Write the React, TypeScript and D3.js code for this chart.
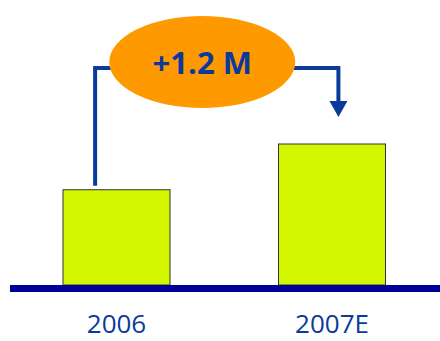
import React from 'react';
import * as d3 from 'd3';

const years = ['2006', '2007E'];
const values = [2.5, 3.7];
const deltaLabel = '+1.2 M';

const W = 440;
const H = 341;

export default function App() {
  const x = d3.scaleBand<string>()
    .domain(years)
    .range([10, 438.5])
    .paddingInner(0.5035)
    .paddingOuter(0.246);
  const y = d3.scaleLinear()
    .domain([0, d3.max(values) as number])
    .range([285, 144]);

  const bw = x.bandwidth();
  const x0 = (x(years[0]) as number);
  const x1 = (x(years[1]) as number);

  // connector geometry, from the bars
  const lineY = 68;
  const leftX = x0 + bw * 0.3;
  const rightX = x1 + bw * 0.56;
  const arrowTip = y(values[1]) - 27;

  const ell = { cx: (x0 + bw / 2 + x1 + bw / 2) / 2 - 22, cy: 62, rx: 93, ry: 46 };
  const blue = '#0a3a9c';

  const line = d3.line();

  return (
    <svg width={W} height={H} style={{ position: 'absolute', left: 0, top: 0 }}>
      <path
        d={line([[leftX, y(values[0]) - 4], [leftX, lineY], [ell.cx, lineY]]) as string}
        fill="none" stroke={blue} strokeWidth={4}
      />
      <path
        d={line([[ell.cx, lineY], [rightX, lineY], [rightX, arrowTip - 14]]) as string}
        fill="none" stroke={blue} strokeWidth={4}
      />
      <path
        d={`M${rightX - 9},${arrowTip - 16}L${rightX + 9},${arrowTip - 16}L${rightX},${arrowTip}Z`}
        fill={blue}
      />
      <ellipse cx={ell.cx} cy={ell.cy} rx={ell.rx} ry={ell.ry} fill="#ff9900" />
      <text x={ell.cx} y={74} textAnchor="middle" fontFamily="'Open Sans', sans-serif"
        fontWeight={700} fontSize={31} fill={blue}>{deltaLabel}</text>

      {years.map((yr, i) => (
        <rect key={yr} x={x(yr)} y={y(values[i])} width={bw} height={285 - y(values[i])}
          fill="#d2f500" stroke="#333" strokeWidth={1} />
      ))}
      <rect x={10} y={285} width={430} height={7} fill="#000099" />
      {years.map((yr) => (
        <text key={yr} x={(x(yr) as number) + bw / 2} y={333} textAnchor="middle"
          fontFamily="'Open Sans', sans-serif" fontSize={26} fill={blue}>{yr}</text>
      ))}
    </svg>
  );
}
